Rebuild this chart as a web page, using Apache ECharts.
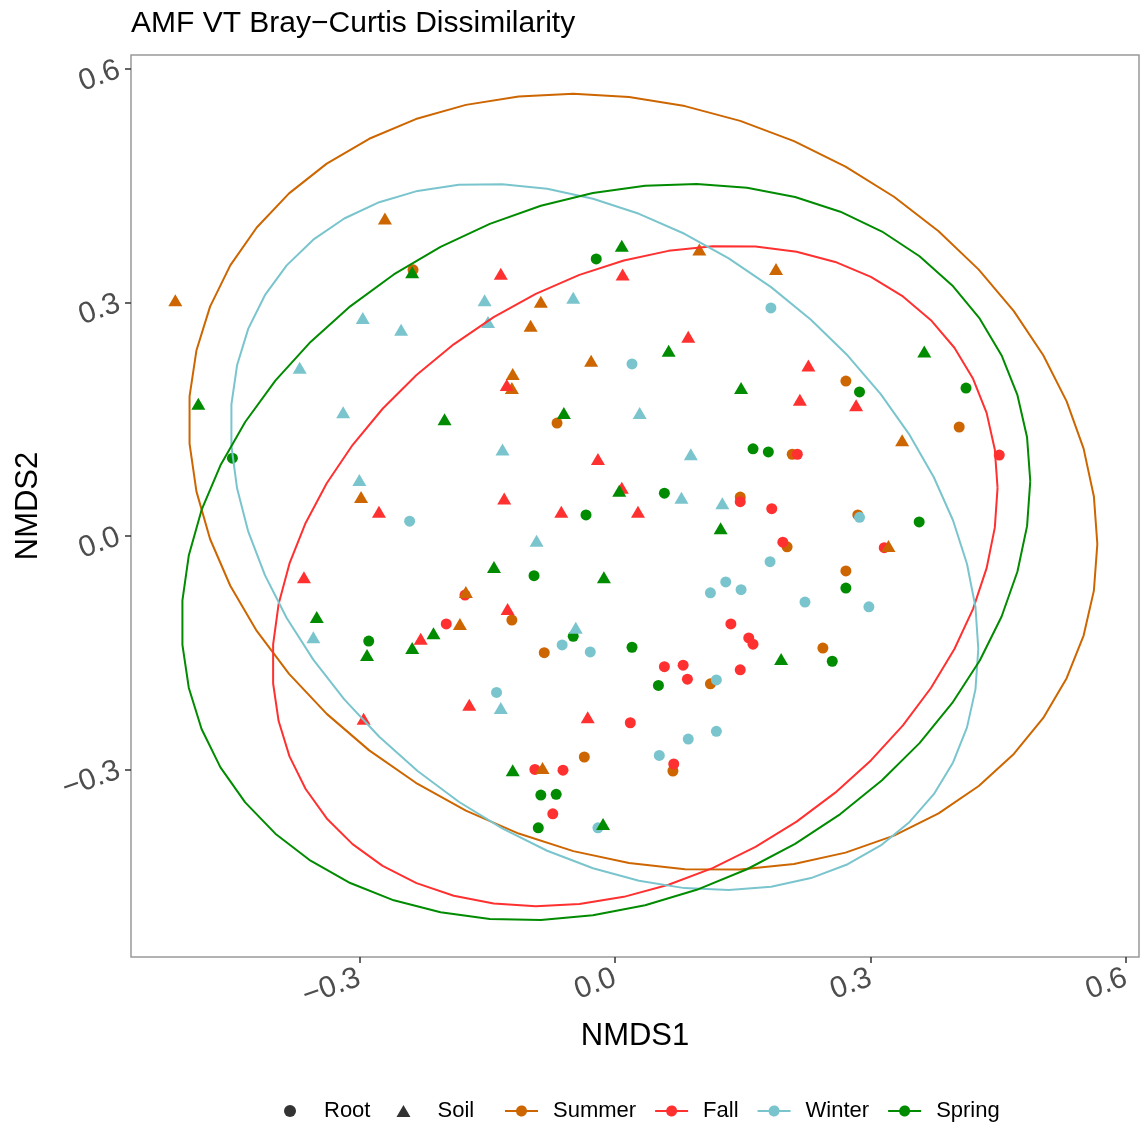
<!DOCTYPE html>
<html><head><meta charset="utf-8">
<script src="https://cdn.jsdelivr.net/npm/echarts@6/dist/echarts.min.js"></script>
<style>html,body{margin:0;padding:0;background:#fff}#c{width:1143px;height:1127px}</style>
</head><body><div id="c"></div>
<script>
// ---- data ----
const seasons = ['Summer', 'Fall', 'Winter', 'Spring'];
const seasonColors = ['#CD6600', '#FF3030', '#7AC5CD', '#008B00'];
const xTicks = [-0.3, 0.0, 0.3, 0.6];
const yTicks = [-0.3, 0.0, 0.3, 0.6];

const summerRoot = [[-0.237,0.342],[-0.068,0.145],[0.208,0.105],[0.271,0.199],[0.404,0.140],[0.285,0.027],[0.147,0.050],[0.202,-0.014],[0.271,-0.045],[0.244,-0.144],[-0.121,-0.108],[-0.083,-0.150],[0.112,-0.190],[-0.036,-0.284],[0.068,-0.302]];
const summerSoil = [[-0.516,0.303],[-0.270,0.408],[0.099,0.368],[0.189,0.343],[-0.087,0.301],[-0.099,0.270],[-0.028,0.225],[-0.120,0.208],[-0.121,0.190],[0.337,0.123],[-0.298,0.050],[0.321,-0.013],[-0.175,-0.072],[-0.182,-0.113],[-0.085,-0.298]];
const fallRoot = [[-0.176,-0.076],[-0.198,-0.113],[0.214,0.105],[0.451,0.104],[0.184,0.035],[0.147,0.044],[0.197,-0.008],[0.316,-0.015],[0.136,-0.113],[0.157,-0.131],[0.162,-0.139],[0.058,-0.168],[0.080,-0.166],[0.085,-0.184],[0.147,-0.172],[0.018,-0.240],[-0.094,-0.300],[-0.061,-0.301],[0.069,-0.293],[-0.073,-0.357]];
const fallSoil = [[-0.134,0.337],[0.009,0.336],[0.086,0.256],[0.227,0.219],[-0.127,0.194],[0.217,0.175],[0.283,0.168],[-0.020,0.099],[-0.130,0.048],[0.008,0.062],[-0.277,0.031],[-0.063,0.031],[0.027,0.031],[-0.365,-0.053],[-0.126,-0.094],[-0.228,-0.132],[-0.171,-0.217],[-0.295,-0.235],[-0.032,-0.233]];
const winterRoot = [[0.183,0.293],[0.020,0.221],[-0.241,0.019],[0.287,0.024],[0.182,-0.033],[0.130,-0.059],[0.148,-0.069],[0.112,-0.073],[0.223,-0.085],[0.298,-0.091],[-0.062,-0.140],[-0.029,-0.149],[0.119,-0.185],[-0.139,-0.201],[0.119,-0.251],[0.086,-0.261],[0.052,-0.282],[-0.020,-0.375]];
const winterSoil = [[-0.296,0.280],[-0.251,0.265],[-0.153,0.303],[-0.149,0.275],[-0.049,0.306],[-0.370,0.216],[-0.319,0.159],[0.029,0.158],[-0.132,0.111],[0.089,0.105],[-0.300,0.072],[0.078,0.049],[0.126,0.042],[-0.092,-0.006],[-0.354,-0.130],[-0.046,-0.118],[-0.134,-0.221]];
const springRoot = [[-0.022,0.356],[-0.449,0.100],[0.162,0.112],[0.180,0.108],[0.287,0.185],[0.412,0.190],[0.357,0.018],[0.058,0.055],[-0.034,0.027],[-0.095,-0.051],[0.271,-0.067],[-0.289,-0.135],[-0.049,-0.129],[0.020,-0.143],[0.255,-0.161],[0.051,-0.192],[-0.087,-0.333],[-0.069,-0.332],[-0.090,-0.375]];
const springSoil = [[-0.238,0.339],[0.008,0.373],[0.063,0.238],[0.363,0.237],[0.148,0.190],[-0.489,0.170],[-0.200,0.150],[-0.060,0.158],[0.005,0.058],[0.124,0.010],[-0.142,-0.040],[-0.013,-0.053],[-0.350,-0.104],[-0.213,-0.125],[-0.238,-0.144],[-0.291,-0.153],[0.195,-0.158],[-0.120,-0.301],[-0.014,-0.370]];

// ellipse summaries: [centre x, centre y, sd x, sd y, correlation]
const summerEllipse = [0.0329, 0.0694, 0.5332, 0.4988, -0.1598];
const fallEllipse   = [0.0235, -0.0514, 0.4255, 0.4244, 0.2667];
const winterEllipse = [-0.0123, -0.0013, 0.4387, 0.4538, -0.3173];
const springEllipse = [-0.0106, -0.0206, 0.4980, 0.4731, 0.1923];

// ---- build ----
const rootData = [summerRoot, fallRoot, winterRoot, springRoot];
const soilData = [summerSoil, fallSoil, winterSoil, springSoil];
const ellipses = [summerEllipse, fallEllipse, winterEllipse, springEllipse];

function ellipsePath(p, n) {
  const [cx, cy, sx, sy, rho] = p;
  const k = Math.sqrt(1 - rho * rho);
  const out = [];
  for (let i = 0; i <= n; i++) {
    const t = 2 * Math.PI * i / n;
    out.push([cx + sx * Math.cos(t), cy + sy * (rho * Math.cos(t) + k * Math.sin(t))]);
  }
  return out;
}
const FONT = 'Liberation Sans, Arial, sans-serif';
const fmt = v => (v < 0 ? '\u2212' : '') + Math.abs(v).toFixed(1);

const series = [];
series.push({ name: 'Root', type: 'scatter', data: [], symbol: 'circle', itemStyle: { color: '#000' } });
series.push({ name: 'Soil', type: 'scatter', data: [], symbol: 'triangle', itemStyle: { color: '#000' } });
seasons.forEach((s, i) => {
  series.push({ name: s, type: 'scatter', data: rootData[i], symbol: 'circle', symbolSize: 11,
    itemStyle: { color: seasonColors[i], opacity: 1 }, z: 2 });
});
seasons.forEach((s, i) => {
  series.push({ name: s, type: 'scatter', data: soilData[i], symbol: 'triangle', symbolSize: [14, 12],
    itemStyle: { color: seasonColors[i], opacity: 1 }, z: 2 });
});
seasons.forEach((s, i) => {
  series.push({ name: s, type: 'line', data: ellipsePath(ellipses[i], 51), showSymbol: false, symbol: 'none',
    smooth: false, lineStyle: { color: seasonColors[i], width: 2 }, itemStyle: { color: seasonColors[i] }, z: 3, silent: true });
});

const seasonIcon = 'path://M0,4.5H11.092A5.5,5.5 0 0 1 21.908,4.5H33V6.5H21.908A5.5,5.5 0 0 1 11.092,6.5H0Z';

const option = {
  animation: false,
  backgroundColor: '#fff',
  textStyle: { fontFamily: FONT },
  title: { text: 'AMF VT Bray\u2212Curtis Dissimilarity', left: 131, top: 9, padding: 0,
    textStyle: { fontFamily: FONT, fontSize: 30, fontWeight: 'normal', color: '#000' } },
  grid: { left: 131, right: 4, top: 55, bottom: 170, show: true, borderColor: '#999', borderWidth: 1.5, backgroundColor: '#fff' },
  legend: [
    { data: [{ name: 'Root', icon: 'circle' }, { name: 'Soil', icon: 'triangle' }],
      left: 284, top: 1100, padding: 0, itemWidth: 14, itemHeight: 12, itemGap: 26, selectedMode: false,
      textStyle: { fontFamily: FONT, fontSize: 22, color: '#000', padding: [0, 0, 0, 22] } },
    { data: seasons.map(s => ({ name: s, icon: seasonIcon })),
      left: 505, top: 1100, padding: 0, itemWidth: 33, itemHeight: 11, itemGap: 19, selectedMode: false,
      textStyle: { fontFamily: FONT, fontSize: 22, color: '#000', padding: [0, 0, 0, 10] } }
  ],
  xAxis: {
    type: 'value', min: -0.568, max: 0.615,
    name: 'NMDS1', nameLocation: 'middle', nameGap: 64,
    nameTextStyle: { fontFamily: FONT, fontSize: 31, color: '#000' },
    axisLine: { show: false, onZero: false },
    axisTick: { show: true, length: 6, lineStyle: { color: '#333', width: 1.5 }, customValues: xTicks },
    axisLabel: { customValues: xTicks, formatter: fmt, rotate: 20, margin: 20, fontSize: 30, color: '#4D4D4D', fontFamily: FONT },
    splitLine: { show: false }
  },
  yAxis: {
    type: 'value', min: -0.541, max: 0.618,
    name: 'NMDS2', nameLocation: 'middle', nameGap: 87, nameRotate: 90,
    nameTextStyle: { fontFamily: FONT, fontSize: 31, color: '#000' },
    axisLine: { show: false, onZero: false },
    axisTick: { show: true, length: 6, lineStyle: { color: '#333', width: 1.5 }, customValues: yTicks },
    axisLabel: { customValues: yTicks, formatter: fmt, rotate: 20, margin: 12, fontSize: 30, color: '#4D4D4D', fontFamily: FONT },
    splitLine: { show: false }
  },
  series: series
};
const chart = echarts.init(document.getElementById('c'), null, { renderer: 'canvas' });
chart.setOption(option);
</script>
</body></html>
